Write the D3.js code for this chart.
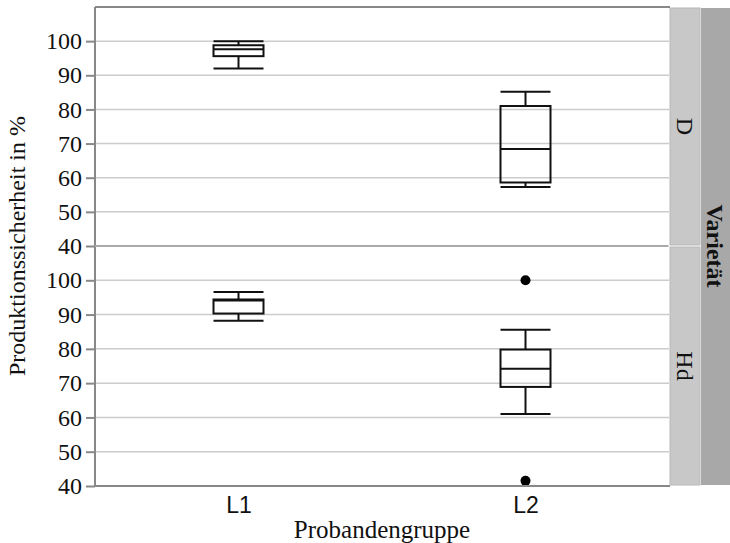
<!DOCTYPE html>
<html>
<head>
<meta charset="utf-8">
<script src="https://cdn.jsdelivr.net/npm/d3@7"></script>
<style>
  body { margin: 0; background: #fff; }
  svg { display: block; }
</style>
</head>
<body>
<svg id="chart" width="730" height="543"></svg>
<script>
// data
const groups = ["L1", "L2"];
const panels = ["D", "Hd"];
const yTicks = [40, 50, 60, 70, 80, 90, 100];
// [lower whisker, q1, median, q3, upper whisker] per panel, per group
const statsD = [[92, 95.6, 97.6, 98.8, 100], [57.3, 58.6, 68.4, 81, 85.2]];
const statsHd = [[88.2, 90.3, 94.1, 94.4, 96.6], [61, 68.9, 74.2, 79.8, 85.6]];
const outliersD = [[], []];
const outliersHd = [[], [100, 41.5]];

const stats = [statsD, statsHd];
const outliers = [outliersD, outliersHd];

const serif = "'Liberation Serif', 'Times New Roman', serif";
const svg = d3.select("#chart");
const left = 95, right = 669;
const panelTops = [7, 246];
const panelBottoms = [246, 486];

const x = d3.scalePoint().domain(groups).range([left, right]).padding(0.5);
const boxW = 50;

panels.forEach((p, pi) => {
  const y = d3.scaleLinear().domain([40, 110]).range([panelBottoms[pi], panelTops[pi]]);
  const g = svg.append("g");

  // gridlines
  g.selectAll(".grid")
    .data(yTicks)
    .join("line")
    .attr("x1", left).attr("x2", right)
    .attr("y1", (d) => y(d)).attr("y2", (d) => y(d))
    .attr("stroke", "#cccccc")
    .attr("stroke-width", 1.5);

  // y axis
  const yAxis = d3.axisLeft(y).tickValues(yTicks).tickSize(9).tickPadding(4);
  const ax = g.append("g").attr("transform", `translate(${left},0)`).call(yAxis);
  ax.select(".domain").remove();
  ax.selectAll(".tick line").attr("stroke", "#888").attr("stroke-width", 2);
  ax.selectAll(".tick text")
    .attr("fill", "#111")
    .style("font-family", serif)
    .style("font-size", "24px");

  // boxes
  groups.forEach((gr, gi) => {
    const s = stats[pi][gi];
    const cx = x(gr);
    const bg = g.append("g").attr("stroke", "#111").attr("stroke-width", 2).attr("fill", "none");
    bg.append("line").attr("x1", cx).attr("x2", cx).attr("y1", y(s[0])).attr("y2", y(s[1]));
    bg.append("line").attr("x1", cx).attr("x2", cx).attr("y1", y(s[3])).attr("y2", y(s[4]));
    bg.append("line").attr("x1", cx - boxW / 2).attr("x2", cx + boxW / 2).attr("y1", y(s[0])).attr("y2", y(s[0]));
    bg.append("line").attr("x1", cx - boxW / 2).attr("x2", cx + boxW / 2).attr("y1", y(s[4])).attr("y2", y(s[4]));
    bg.append("rect")
      .attr("x", cx - boxW / 2).attr("width", boxW)
      .attr("y", y(s[3])).attr("height", y(s[1]) - y(s[3]));
    bg.append("line").attr("x1", cx - boxW / 2).attr("x2", cx + boxW / 2).attr("y1", y(s[2])).attr("y2", y(s[2]));

    g.selectAll(null)
      .data(outliers[pi][gi])
      .join("circle")
      .attr("cx", cx).attr("cy", (d) => y(d)).attr("r", 5)
      .attr("fill", "#000");
  });

  // strip
  svg.append("rect")
    .attr("x", 670).attr("y", panelTops[pi] + 1)
    .attr("width", 30).attr("height", panelBottoms[pi] - panelTops[pi] - 2)
    .attr("fill", "#c8c8c8").attr("stroke", "#b8b8b8");
  const my = (panelTops[pi] + panelBottoms[pi]) / 2;
  svg.append("text")
    .attr("transform", `translate(685,${my}) rotate(90)`)
    .attr("text-anchor", "middle")
    .attr("dominant-baseline", "central")
    .style("font-family", serif)
    .style("font-size", "24px")
    .attr("fill", "#111")
    .text(p);
});

// frame
const frame = svg.append("g").attr("stroke", "#888").attr("stroke-width", 2).attr("fill", "none");
frame.append("line").attr("x1", left).attr("x2", left).attr("y1", 7).attr("y2", 487);
frame.append("line").attr("x1", left).attr("x2", 670).attr("y1", 7).attr("y2", 7);
frame.append("line").attr("x1", left - 1).attr("x2", 670).attr("y1", 486).attr("y2", 486);
svg.append("line").attr("x1", left).attr("x2", 668).attr("y1", 246).attr("y2", 246)
  .attr("stroke", "#aaa").attr("stroke-width", 2);

// outer strip
svg.append("rect")
  .attr("x", 701).attr("y", 8)
  .attr("width", 29).attr("height", 477)
  .attr("fill", "#a8a8a8");
svg.append("text")
  .attr("transform", "translate(715,246) rotate(90)")
  .attr("text-anchor", "middle")
  .attr("dominant-baseline", "central")
  .style("font-family", serif)
  .style("font-size", "24px")
  .style("font-weight", "bold")
  .attr("fill", "#111")
  .text("Varietät");

// x axis
const xAxis = d3.axisBottom(x).tickSize(0).tickPadding(11);
const xa = svg.append("g").attr("transform", "translate(0,486)").call(xAxis);
xa.select(".domain").remove();
xa.selectAll(".tick text")
  .attr("fill", "#111")
  .style("font-family", "'Liberation Sans', Arial, sans-serif")
  .style("font-size", "23px");

// titles
svg.append("text")
  .attr("x", (left + right) / 2).attr("y", 538)
  .attr("text-anchor", "middle")
  .style("font-family", serif)
  .style("font-size", "25px")
  .attr("fill", "#111")
  .text("Probandengruppe");

svg.append("text")
  .attr("transform", "translate(25,246) rotate(-90)")
  .attr("text-anchor", "middle")
  .style("font-family", serif)
  .style("font-size", "24px")
  .attr("fill", "#111")
  .text("Produktionssicherheit in %");
</script>
</body>
</html>
